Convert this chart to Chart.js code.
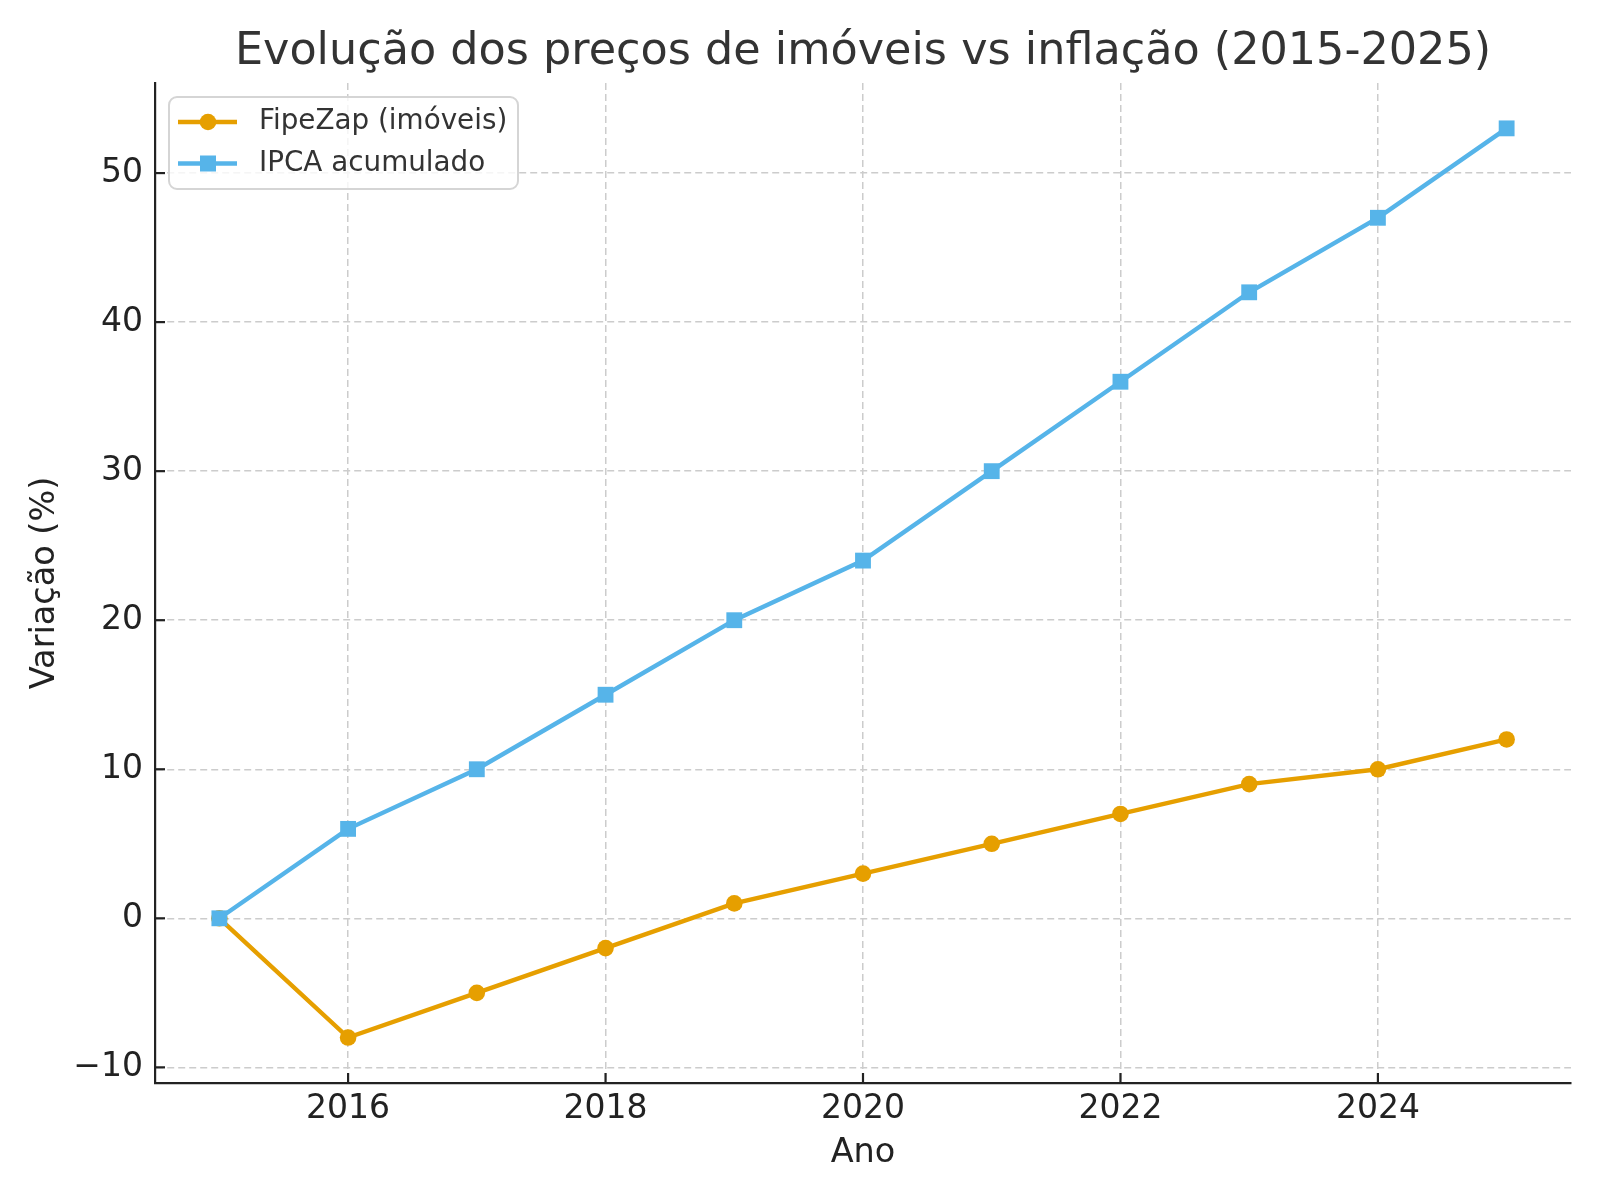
<!DOCTYPE html>
<html>
<head>
<meta charset="utf-8">
<script src="https://cdn.jsdelivr.net/npm/chart.js@4"></script>
<style>
  body { margin: 0; background: #fff; }
  canvas { display: block; }
</style>
</head>
<body>
<canvas id="chart" width="1600" height="1200"></canvas>
<script>
// ----------------- dados -----------------
const anos = [2015, 2016, 2017, 2018, 2019, 2020, 2021, 2022, 2023, 2024, 2025];
const fipeZap = [0, -8, -5, -2, 1, 3, 5, 7, 9, 10, 12];
const ipca = [0, 6, 10, 15, 20, 24, 30, 36, 42, 47, 53];
const xTicks = [2016, 2018, 2020, 2022, 2024];
const yTicks = [-10, 0, 10, 20, 30, 40, 50];

const FONT = "'DejaVu Sans', sans-serif";
const ORANGE = "#E69F00";
const BLUE = "#56B4E9";

// ticks para dentro, como no original
const inwardTicks = {
  id: "inwardTicks",
  afterDatasetsDraw(chart) {
    const { ctx, chartArea, scales } = chart;
    ctx.save();
    ctx.strokeStyle = "#222";
    ctx.lineWidth = 2.2;
    scales.y.ticks.forEach((t) => {
      const y = scales.y.getPixelForValue(t.value);
      ctx.beginPath();
      ctx.moveTo(chartArea.left, y);
      ctx.lineTo(chartArea.left + 10, y);
      ctx.stroke();
    });
    scales.x.ticks.forEach((t) => {
      const x = scales.x.getPixelForValue(t.value);
      ctx.beginPath();
      ctx.moveTo(x, chartArea.bottom);
      ctx.lineTo(x, chartArea.bottom - 10);
      ctx.stroke();
    });
    ctx.restore();
  },
};

// legenda com linha + marcador
const lineLegend = {
  id: "lineLegend",
  afterDraw(chart) {
    const { ctx } = chart;
    const box = { x: 169, y: 97, w: 349, h: 92 };
    ctx.save();
    ctx.beginPath();
    ctx.roundRect(box.x, box.y, box.w, box.h, 8);
    ctx.fillStyle = "rgba(255,255,255,0.8)";
    ctx.fill();
    ctx.strokeStyle = "#d5d5d5";
    ctx.lineWidth = 2;
    ctx.stroke();

    const rows = [122, 163.5];
    [0, 1].forEach((i) => {
      const ds = chart.data.datasets[i];
      const y = rows[i];
      ctx.strokeStyle = ds.borderColor;
      ctx.lineWidth = ds.borderWidth;
      ctx.beginPath();
      ctx.moveTo(178, y);
      ctx.lineTo(237, y);
      ctx.stroke();
      ctx.fillStyle = ds.borderColor;
      if (ds.pointStyle === "rect") {
        ctx.fillRect(208 - 8, y - 8, 16, 16);
      } else {
        ctx.beginPath();
        ctx.arc(208, y, 8.3, 0, Math.PI * 2);
        ctx.fill();
      }
      ctx.fillStyle = "#333";
      ctx.font = "27.8px " + FONT;
      ctx.textBaseline = "middle";
      ctx.fillText(ds.label, 259, y);
    });
    ctx.restore();
  },
};

new Chart(document.getElementById("chart"), {
  type: "line",
  data: {
    labels: anos,
    datasets: [
      {
        label: "FipeZap (imóveis)",
        data: anos.map((a, i) => ({ x: a, y: fipeZap[i] })),
        borderColor: ORANGE,
        backgroundColor: ORANGE,
        borderWidth: 4.4,
        pointStyle: "circle",
        pointRadius: 8.3,
        pointBorderWidth: 0,
        order: 1,
      },
      {
        label: "IPCA acumulado",
        data: anos.map((a, i) => ({ x: a, y: ipca[i] })),
        borderColor: BLUE,
        backgroundColor: BLUE,
        borderWidth: 4.4,
        pointStyle: "rect",
        pointRadius: 11.2,
        pointBorderWidth: 0,
        order: 0,
      },
    ],
  },
  options: {
    animation: false,
    responsive: false,
    devicePixelRatio: 1,
    layout: { padding: { left: 0, right: 29, top: 0, bottom: 0 } },
    plugins: {
      legend: { display: false },
      tooltip: { enabled: false },
      title: {
        display: true,
        text: "Evolução dos preços de imóveis vs inflação (2015-2025)",
        color: "#333",
        font: { family: FONT, size: 44.5, weight: "normal" },
        padding: { top: 26, bottom: 3.5 },
        fullSize: false,
      },
    },
    scales: {
      x: {
        type: "linear",
        min: 2014.5,
        max: 2025.5,
        afterBuildTicks: (s) => { s.ticks = xTicks.map((v) => ({ value: v })); },
        afterFit: (s) => { s.height = 117; },
        ticks: {
          color: "#222",
          font: { family: FONT, size: 33 },
          padding: 7,
          maxRotation: 0,
          callback: (v) => String(v),
        },
        grid: { color: "#cccccc", lineWidth: 1.5, drawTicks: false },
        border: { display: true, color: "#222", width: 2.2, dash: [7, 4] },
        title: {
          display: true,
          text: "Ano",
          color: "#222",
          font: { family: FONT, size: 33.5 },
          padding: { top: 0, bottom: 27 },
        },
      },
      y: {
        type: "linear",
        min: -11.05,
        max: 56.05,
        afterBuildTicks: (s) => { s.ticks = yTicks.map((v) => ({ value: v })); },
        afterFit: (s) => { s.width = 155; },
        ticks: {
          color: "#222",
          font: { family: FONT, size: 33 },
          padding: 12,
          callback: (v) => (v < 0 ? "\u2212" + Math.abs(v) : String(v)),
        },
        grid: { color: "#cccccc", lineWidth: 1.5, drawTicks: false },
        border: { display: true, color: "#222", width: 2.2, dash: [7, 4] },
        title: {
          display: true,
          text: "Variação (%)",
          color: "#222",
          font: { family: FONT, size: 33.5 },
          padding: { top: 25, bottom: 0 },
        },
      },
    },
  },
  plugins: [inwardTicks, lineLegend],
});
</script>
</body>
</html>
